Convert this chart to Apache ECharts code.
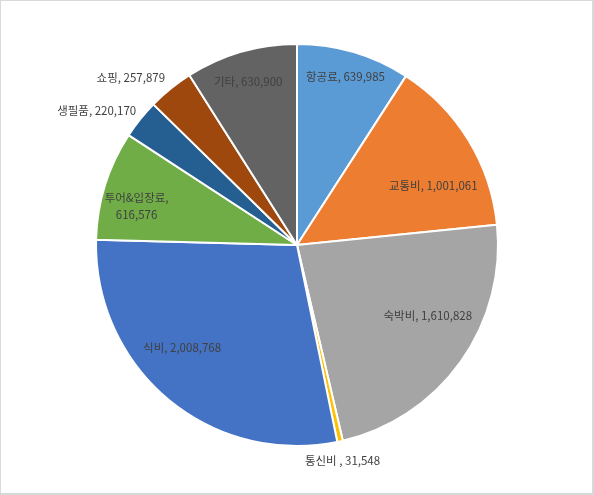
<!DOCTYPE html>
<html>
<head>
<meta charset="utf-8">
<script src="https://cdn.jsdelivr.net/npm/echarts@6/dist/echarts.min.js"></script>
<style>
html,body{margin:0;padding:0;background:#fff;}
#wrap{position:absolute;left:0;top:0;width:594px;height:495px;box-sizing:border-box;border:1px solid #d9d9d9;border-right-width:2px;border-bottom-width:2px;}
#chart{position:absolute;left:0;top:0;width:594px;height:495px;}
</style>
</head>
<body>
<div id="chart"></div>
<div id="wrap"></div>
<script>
// Data
const categories = ['항공료', '교통비', '숙박비', '통신비', '식비', '투어&입장료', '생필품', '쇼핑', '기타'];
const values = [639985, 1001061, 1610828, 31548, 2008768, 616576, 220170, 257879, 630900];
const labelTexts = ['항공료, 639,985', '교통비, 1,001,061', '숙박비, 1,610,828', '통신비 , 31,548', '식비, 2,008,768', '투어&입장료,\n616,576', '생필품, 220,170', '쇼핑, 257,879', '기타, 630,900'];

// Styles
const colors = ['#5B9BD5', '#ED7D31', '#A5A5A5', '#FFC000', '#4472C4', '#70AD47', '#255E91', '#9E480E', '#636363'];
const outsideLabel = [false, false, false, true, false, false, true, true, false];
const labelOffsets = [[1, -7], [-7, 28], [-6, -27], [-41, 15], [-7, -26], [0, 11], [4, -6], [2, -8], [-2, -2]];

const fontStyle = { fontFamily: '"Noto Sans CJK KR", "Noto Sans", sans-serif', fontSize: 11.5, color: '#404040', lineHeight: 17 };

const mainData = categories.map((c, i) => ({
  name: c, value: values[i],
  itemStyle: { color: colors[i] },
  label: Object.assign({ show: outsideLabel[i], position: 'outside', offset: labelOffsets[i], formatter: labelTexts[i] }, fontStyle)
}));
const overlayData = categories.map((c, i) => ({
  name: c, value: values[i],
  itemStyle: { color: 'rgba(0,0,0,0)' },
  label: Object.assign({ show: !outsideLabel[i], position: 'inside', offset: labelOffsets[i], formatter: labelTexts[i] }, fontStyle)
}));

const chart = echarts.init(document.getElementById('chart'), null, { renderer: 'canvas' });
chart.setOption({
  animation: false,
  backgroundColor: '#fff',
  series: [
    {
      type: 'pie', center: [297, 245], radius: [0, 201], startAngle: 90, clockwise: true,
      avoidLabelOverlap: false, silent: true,
      itemStyle: { borderColor: '#fff', borderWidth: 2 },
      labelLine: { show: false, length: 4, length2: 0 },
      data: mainData
    },
    {
      type: 'pie', center: [297, 245], radius: [0, 330], startAngle: 90, clockwise: true,
      avoidLabelOverlap: false, silent: true, z: 5,
      itemStyle: { borderWidth: 0 },
      labelLine: { show: false },
      data: overlayData
    }
  ]
});
</script>
</body>
</html>
